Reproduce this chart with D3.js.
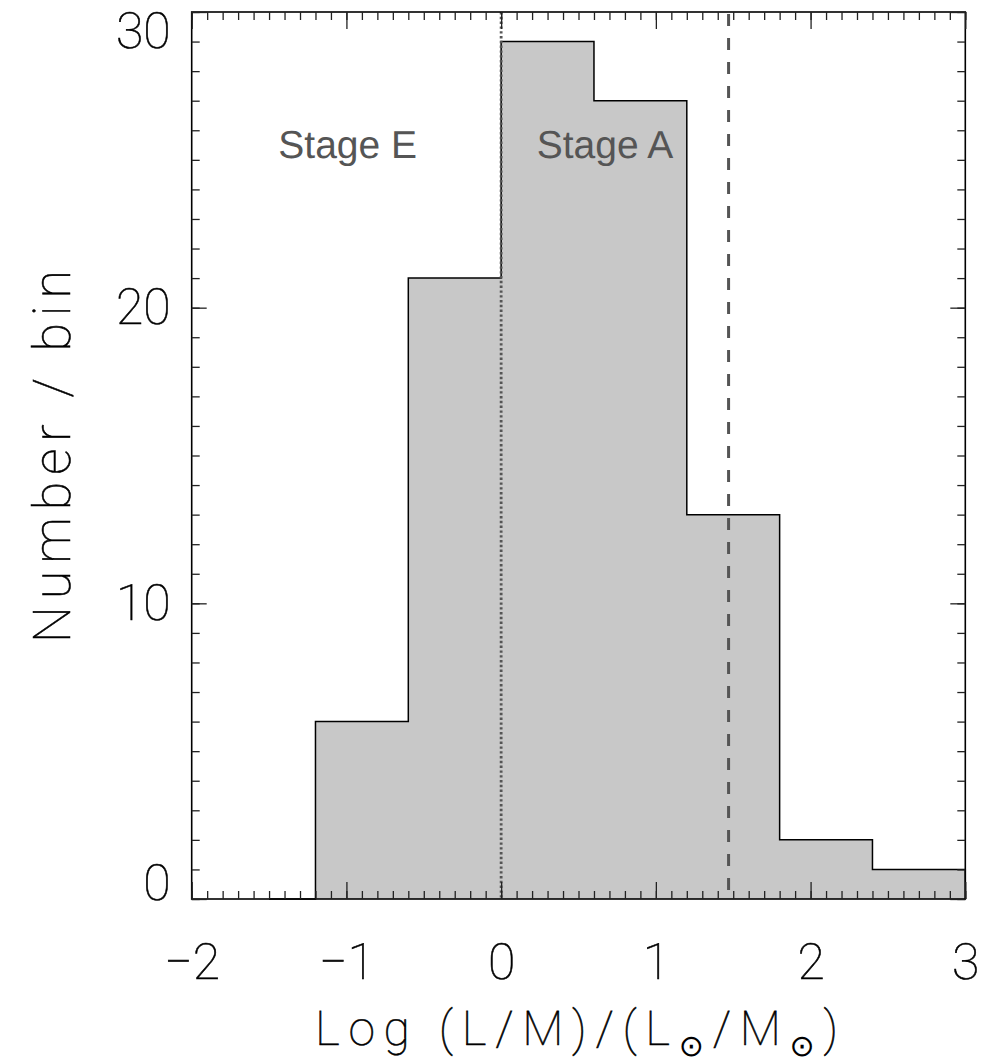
<!DOCTYPE html>
<html>
<head>
<meta charset="utf-8">
<script src="https://cdn.jsdelivr.net/npm/d3@7"></script>
<style>
  html, body { margin: 0; padding: 0; background: #fff; }
  svg { display: block; }
  text { text-rendering: geometricPrecision; }
</style>
</head>
<body>
<script>
// Histogram of log(L/M) for the sample, bins of width 0.6 dex
const binCenters = [-1.5, -0.9, -0.3, 0.3, 0.9, 1.5, 2.1, 2.7];
const counts     = [0, 6, 21, 29, 27, 13, 2, 1];
const binWidth = 0.6;

// Vertical markers: stage boundary (dotted) and threshold (dashed)
const stageBoundary = 0.0;
const threshold = 1.47;

// Region labels
const stageLabels = [
  { text: "Stage E", x: -1.44 },
  { text: "Stage A", x: 0.23 }
];

const xTickValues = [-2, -1, 0, 1, 2, 3];
const yTickValues = [0, 10, 20, 30];
const xMinorValues = d3.range(-20, 31).map(d => d / 10);
const yMinorValues = d3.range(0, 31);

const W = 985, H = 1063;
const plotLeft = 191.7, plotRight = 965.3, plotTop = 12, plotBottom = 899;

const x = d3.scaleLinear().domain([-2, 3]).range([plotLeft, plotRight]);
const y = d3.scaleLinear().domain([0, 30]).range([plotBottom, plotTop]);

const svg = d3.select("body").append("svg")
  .attr("width", W).attr("height", H);

const thinFont = "Roboto, 'Noto Sans', 'DejaVu Sans', sans-serif";
const thinWeight = 100;

// Thin outline stroke gives the axis lettering an even ~2px line weight
function thinText(sel) {
  sel.attr("font-family", thinFont)
    .attr("font-weight", thinWeight)
    .attr("fill", "#000")
    .attr("stroke", "#000")
    .attr("stroke-width", 0.55);
}

// Step outline of the histogram: first bin drawn from its centre, rest full width
const pts = [];
binCenters.forEach((c, i) => {
  const x0 = i === 0 ? c : c - binWidth / 2;
  const x1 = c + binWidth / 2;
  pts.push([x0, counts[i]], [x1, counts[i]]);
});
const stepLine = d3.line().x(d => x(d[0])).y(d => y(d[1]));

// Grey fill under the histogram
svg.append("path")
  .attr("d", stepLine(pts.concat([[pts[pts.length - 1][0], 0], [pts[0][0], 0]])) + "Z")
  .attr("fill", "#c8c8c8")
  .attr("stroke", "none");

svg.append("path")
  .attr("d", stepLine(pts.concat([[pts[pts.length - 1][0], 0]])))
  .attr("fill", "none")
  .attr("stroke", "#000")
  .attr("stroke-width", 1.5);

// Marker lines
svg.append("line")
  .attr("x1", x(stageBoundary)).attr("x2", x(stageBoundary))
  .attr("y1", y(30)).attr("y2", y(0))
  .attr("stroke", "#555").attr("stroke-width", 2.8)
  .attr("stroke-dasharray", "2.4,2.4");

svg.append("line")
  .attr("x1", x(threshold)).attr("x2", x(threshold))
  .attr("y1", y(30) + 2).attr("y2", y(0))
  .attr("stroke", "#555").attr("stroke-width", 3)
  .attr("stroke-dasharray", "12,12");

// Stage labels
svg.selectAll("text.stage").data(stageLabels).enter().append("text")
  .attr("class", "stage")
  .attr("x", d => x(d.x)).attr("y", 158)
  .attr("font-family", "'Liberation Sans', Arial, sans-serif")
  .attr("font-size", 39)
  .attr("fill", "#555")
  .text(d => d.text);

// Frame
svg.append("rect")
  .attr("x", plotLeft).attr("y", plotTop)
  .attr("width", plotRight - plotLeft).attr("height", plotBottom - plotTop)
  .attr("fill", "none").attr("stroke", "#000").attr("stroke-width", 1.6);

function styleAxis(g) {
  g.select(".domain").remove();
  g.selectAll(".tick line").attr("stroke", "#222").attr("stroke-width", 1.3);
}

// Minor ticks (inward) on all four sides
svg.append("g").attr("transform", `translate(0,${plotBottom})`)
  .call(d3.axisBottom(x).tickValues(xMinorValues).tickSize(-8).tickFormat(""))
  .call(styleAxis);
svg.append("g").attr("transform", `translate(0,${plotTop})`)
  .call(d3.axisTop(x).tickValues(xMinorValues).tickSize(-8).tickFormat(""))
  .call(styleAxis);
svg.append("g").attr("transform", `translate(${plotLeft},0)`)
  .call(d3.axisLeft(y).tickValues(yMinorValues).tickSize(-8).tickFormat(""))
  .call(styleAxis);
svg.append("g").attr("transform", `translate(${plotRight},0)`)
  .call(d3.axisRight(y).tickValues(yMinorValues).tickSize(-8).tickFormat(""))
  .call(styleAxis);

// Major ticks with labels
const xAxis = svg.append("g").attr("transform", `translate(0,${plotBottom})`)
  .call(d3.axisBottom(x).tickValues(xTickValues).tickSize(-17).tickPadding(44.5)
    .tickFormat(d3.format("d")))
  .call(styleAxis);
svg.append("g").attr("transform", `translate(0,${plotTop})`)
  .call(d3.axisTop(x).tickValues(xTickValues).tickSize(-17).tickFormat(""))
  .call(styleAxis);
const yAxis = svg.append("g").attr("transform", `translate(${plotLeft},0)`)
  .call(d3.axisLeft(y).tickValues(yTickValues).tickSize(-15).tickPadding(21)
    .tickFormat(d3.format("d")))
  .call(styleAxis);
svg.append("g").attr("transform", `translate(${plotRight},0)`)
  .call(d3.axisRight(y).tickValues(yTickValues).tickSize(-15).tickFormat(""))
  .call(styleAxis);

[xAxis, yAxis].forEach(g => g.selectAll("text")
  .call(thinText)
  .attr("font-size", 50));

// End labels on the y axis stay inside the frame height
yAxis.selectAll(".tick text")
  .attr("dy", d => d === 0 ? "0em" : d === 30 ? "0.71em" : "0.32em");

// Axis titles
const xTitle = svg.append("text")
  .attr("x", 315).attr("y", 1045)
  .call(thinText)
  .attr("font-size", 48)
  .attr("textLength", 523)
  .attr("lengthAdjust", "spacing");
xTitle.append("tspan").text("Log  (L/M)/(L");
xTitle.append("tspan").attr("font-size", 30).attr("dy", 11)
  .attr("font-family", "'DejaVu Sans', sans-serif").attr("font-weight", 400)
  .attr("stroke", "none").text("\u2299");
xTitle.append("tspan").attr("dy", -11).text("/M");
xTitle.append("tspan").attr("font-size", 30).attr("dy", 11)
  .attr("font-family", "'DejaVu Sans', sans-serif").attr("font-weight", 400)
  .attr("stroke", "none").text("\u2299");
xTitle.append("tspan").attr("dy", -11).text(")");

svg.append("text")
  .attr("transform", "translate(70,643) rotate(-90)")
  .attr("x", 0).attr("y", 0)
  .call(thinText)
  .attr("font-size", 52)
  .attr("textLength", 373)
  .attr("lengthAdjust", "spacing")
  .text("Number  /  bin");
</script>
</body>
</html>
